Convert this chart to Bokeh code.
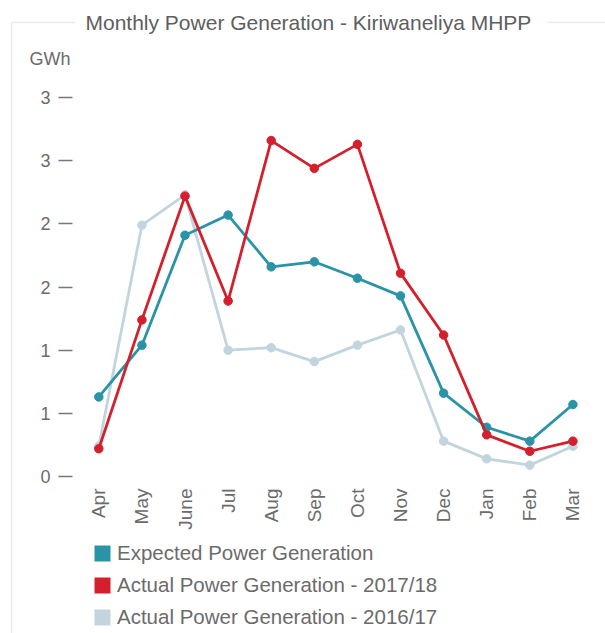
from bokeh.plotting import figure
from bokeh.models import Range1d, FixedTicker, Legend, LegendItem, BoxAnnotation, Label
from bokeh.embed import file_html
from bokeh.resources import INLINE
from math import pi, nan

months = ["Apr", "May", "June", "Jul", "Aug", "Sep", "Oct", "Nov", "Dec", "Jan", "Feb", "Mar"]
expected = [0.63, 1.04, 1.91, 2.07, 1.66, 1.70, 1.57, 1.43, 0.66, 0.39, 0.28, 0.57]
actual_2017_18 = [0.22, 1.24, 2.22, 1.39, 2.66, 2.44, 2.63, 1.61, 1.12, 0.33, 0.20, 0.28]
actual_2016_17 = [0.24, 1.99, 2.23, 1.00, 1.02, 0.91, 1.04, 1.16, 0.28, 0.14, 0.09, 0.24]
y_ticks = [0, 0.5, 1, 1.5, 2, 2.5, 3]
y_tick_labels = ["0", "1", "1", "2", "2", "3", "3"]
series_names = ["Expected Power Generation",
                "Actual Power Generation - 2017/18",
                "Actual Power Generation - 2016/17"]
title_text = "Monthly Power Generation - Kiriwaneliya  MHPP"
unit_text = "GWh"

FONT = "Liberation Sans"
TXT = "#6b6b6b"
C_EXP = "#2a93a5"
C_1718 = "#d3202c"
C_1617 = "#c2d4dd"

W, H = 605, 633
X_START, X_END = -2.281, 11.756
Y_START, Y_END = -1.243, 3.769


def xd(px):
    return X_START + px * (X_END - X_START) / W


def yd(py):
    return Y_END - py * (Y_END - Y_START) / H


x = list(range(len(months)))

p = figure(width=W, height=H, output_backend="svg", toolbar_location=None,
           x_range=Range1d(X_START, X_END), y_range=Range1d(Y_START, Y_END),
           min_border=0)
p.title.visible = False
p.outline_line_color = None
p.xgrid.grid_line_color = None
p.ygrid.grid_line_color = None
p.border_fill_color = "white"

# x axis (drawn at the bottom of the plotting area)
p.xaxis.fixed_location = yd(482)
p.xaxis.ticker = FixedTicker(ticks=x)
p.xaxis.major_label_overrides = {i: m for i, m in enumerate(months)}
p.xaxis.major_label_orientation = pi / 2
p.xaxis.axis_line_color = None
p.xaxis.major_tick_line_color = None
p.xaxis.minor_tick_line_color = None
p.xaxis.major_label_standoff = 0
p.xaxis.major_label_text_font = FONT
p.xaxis.major_label_text_font_size = "19px"
p.xaxis.major_label_text_color = TXT

# y axis
p.yaxis.fixed_location = xd(72)
p.yaxis.ticker = FixedTicker(ticks=y_ticks)
p.yaxis.major_label_overrides = dict(zip(y_ticks, y_tick_labels))
p.yaxis.axis_line_color = None
p.yaxis.minor_tick_line_color = None
p.yaxis.major_tick_in = 0
p.yaxis.major_tick_out = 14
p.yaxis.major_tick_line_color = "#777777"
p.yaxis.major_tick_line_width = 1.5
p.yaxis.major_label_standoff = 8
p.yaxis.major_label_text_font = FONT
p.yaxis.major_label_text_font_size = "18px"
p.yaxis.major_label_text_color = TXT

# series
for ys, c in [(actual_2016_17, C_1617), (expected, C_EXP), (actual_2017_18, C_1718)]:
    p.line(x, ys, line_width=2.8, line_color=c)
    p.scatter(x, ys, size=8.5, fill_color=c, line_color=c)

# legend swatches (square patches, no visible data)
swatches = []
for c in [C_EXP, C_1718, C_1617]:
    swatches.append(p.quad(left=[nan], right=[nan], top=[nan], bottom=[nan],
                           fill_color=c, line_color=None))
legend = Legend(items=[LegendItem(label=n, renderers=[r], index=0)
                       for n, r in zip(series_names, swatches)],
                location=(92, 4), orientation="vertical",
                glyph_width=20, glyph_height=20, label_height=20, spacing=8,
                padding=0, margin=0, border_line_color=None, background_fill_alpha=0,
                label_text_font=FONT, label_text_font_size="20.5px",
                label_text_color=TXT, label_standoff=5)
p.add_layout(legend)

# fieldset-like frame
box = BoxAnnotation(left=xd(11), right=xd(800), top=yd(22), bottom=yd(900),
                    fill_alpha=0, line_color="#bdbdbd", line_width=1.5,
                    level="underlay")
p.add_layout(box)

title = Label(x=xd(75), y=yd(22), text=title_text, text_baseline="middle",
              text_font=FONT, text_font_size="21px", text_color="#5e5e5e",
              padding=10, background_fill_color="white", level="overlay")
p.add_layout(title)

unit = Label(x=xd(29), y=yd(58), text=unit_text, text_baseline="middle",
             text_font=FONT, text_font_size="18px", text_color=TXT)
p.add_layout(unit)

open("out.html", "w").write(file_html(p, INLINE))
